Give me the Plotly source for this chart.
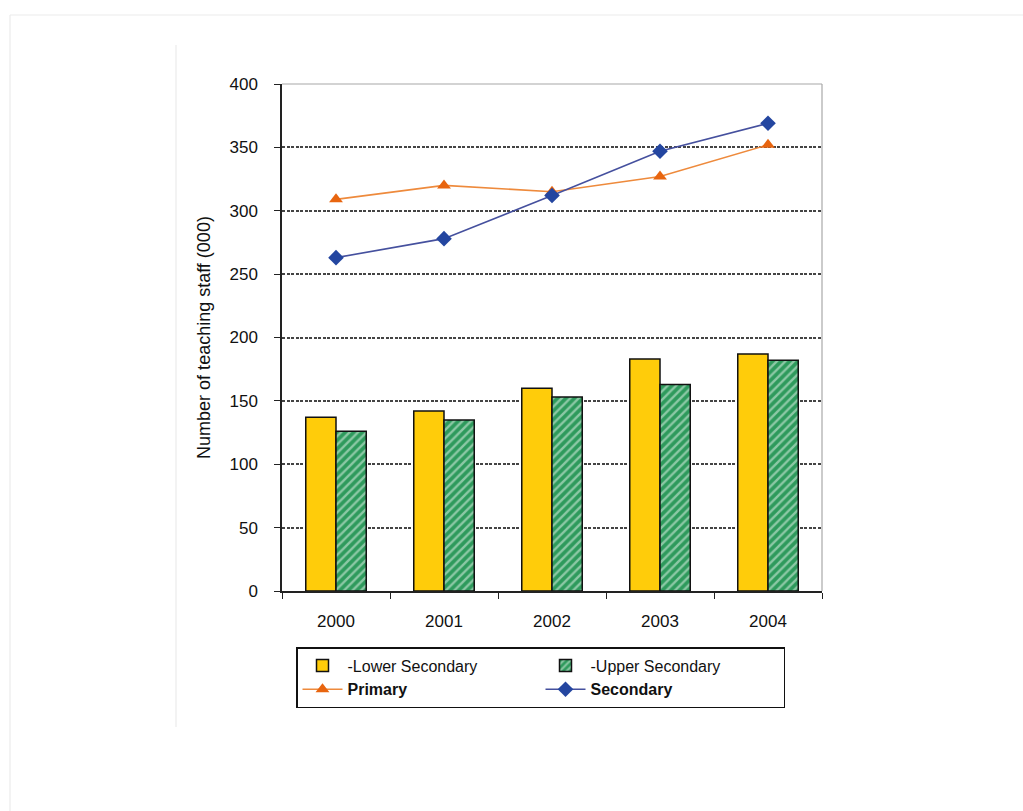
import plotly.graph_objects as go

# Teaching staff (thousands) by year
years = ["2000", "2001", "2002", "2003", "2004"]
lower_secondary = [137, 142, 160, 183, 187]
upper_secondary = [126, 135, 153, 163, 182]
primary = [309, 320, 315, 327, 352]
secondary = [263, 278, 312, 347, 369]

W, H = 1023, 811
L, R, T, B = 282, 201, 84, 220
PW, PH = W - L - R, H - T - B

FONT = "Liberation Sans, Arial, sans-serif"

fig = go.Figure()

fig.add_trace(go.Bar(
    x=years, y=lower_secondary, name="-Lower Secondary",
    marker=dict(color="#FFCC0A", line=dict(color="#111111", width=1.5)),
))
fig.add_trace(go.Bar(
    x=years, y=upper_secondary, name="-Upper Secondary",
    marker=dict(
        color="#2E9A5C",
        line=dict(color="#111111", width=1.5),
        pattern=dict(shape="/", fgcolor="#EAF6EE", bgcolor="#2E9A5C",
                     size=6, solidity=0.4, fillmode="overlay"),
    ),
))
fig.add_trace(go.Scatter(
    x=years, y=primary, name="<b>Primary</b>", mode="lines+markers",
    line=dict(color="#EE8A3C", width=1.6),
    marker=dict(symbol="triangle-up", size=12, color="#E8650F"),
))
fig.add_trace(go.Scatter(
    x=years, y=secondary, name="<b>Secondary</b>", mode="lines+markers",
    line=dict(color="#45509E", width=1.6),
    marker=dict(symbol="diamond", size=12, color="#2446A0"),
))


def px_x(px):
    return (px - L) / PW


def px_y(py):
    return (H - B - py) / PH


# light page frame lines around the figure
frame = [
    (10, 15, W, 15),
    (10, 15, 10, H),
    (176, 45, 176, 727),
]
shapes = [
    dict(type="line", xref="paper", yref="paper",
         x0=px_x(a), y0=px_y(b), x1=px_x(c), y1=px_y(d),
         line=dict(color="#EBEBEB", width=1.2), layer="below")
    for a, b, c, d in frame
]
# thin grey border on top and right of plot area
shapes.append(dict(type="line", xref="paper", yref="paper", x0=0, y0=1, x1=1, y1=1,
                   line=dict(color="#A8A8A8", width=1.2)))
shapes.append(dict(type="line", xref="paper", yref="paper", x0=1, y0=0, x1=1, y1=1,
                   line=dict(color="#A8A8A8", width=1.2)))

fig.update_layout(
    width=W, height=H,
    margin=dict(l=L, r=R, t=T, b=B, pad=0),
    paper_bgcolor="white", plot_bgcolor="white",
    font=dict(family=FONT, size=17, color="#111111"),
    barmode="group", bargap=0.44, bargroupgap=0,
    shapes=shapes,
    legend=dict(
        orientation="h", x=px_x(296), y=px_y(647), xanchor="left", yanchor="top",
        bordercolor="#111111", borderwidth=1.5, bgcolor="white",
        entrywidth=188, entrywidthmode="pixels",
        font=dict(family=FONT, size=16, color="#111111"),
        traceorder="normal", itemwidth=40,
    ),
    showlegend=True,
)

fig.update_xaxes(
    type="category", showline=True, linecolor="#222222", linewidth=1.5,
    ticks="outside", tickson="boundaries", ticklen=6, tickcolor="#222222",
    tickfont=dict(size=17), ticklabelstandoff=14,
    showgrid=False, zeroline=False,
)
fig.update_yaxes(
    range=[0, 400], tickvals=[0, 50, 100, 150, 200, 250, 300, 350, 400],
    showline=True, linecolor="#222222", linewidth=1.5,
    ticks="outside", ticklen=6, tickcolor="#222222",
    tickfont=dict(size=17), ticklabelstandoff=13,
    showgrid=True, gridcolor="#444444", gridwidth=1.5, griddash="3px,1.5px",
    zeroline=False,
    title=dict(text="Number of teaching staff (000)", font=dict(size=18), standoff=14),
)

fig.write_html("out.html")
